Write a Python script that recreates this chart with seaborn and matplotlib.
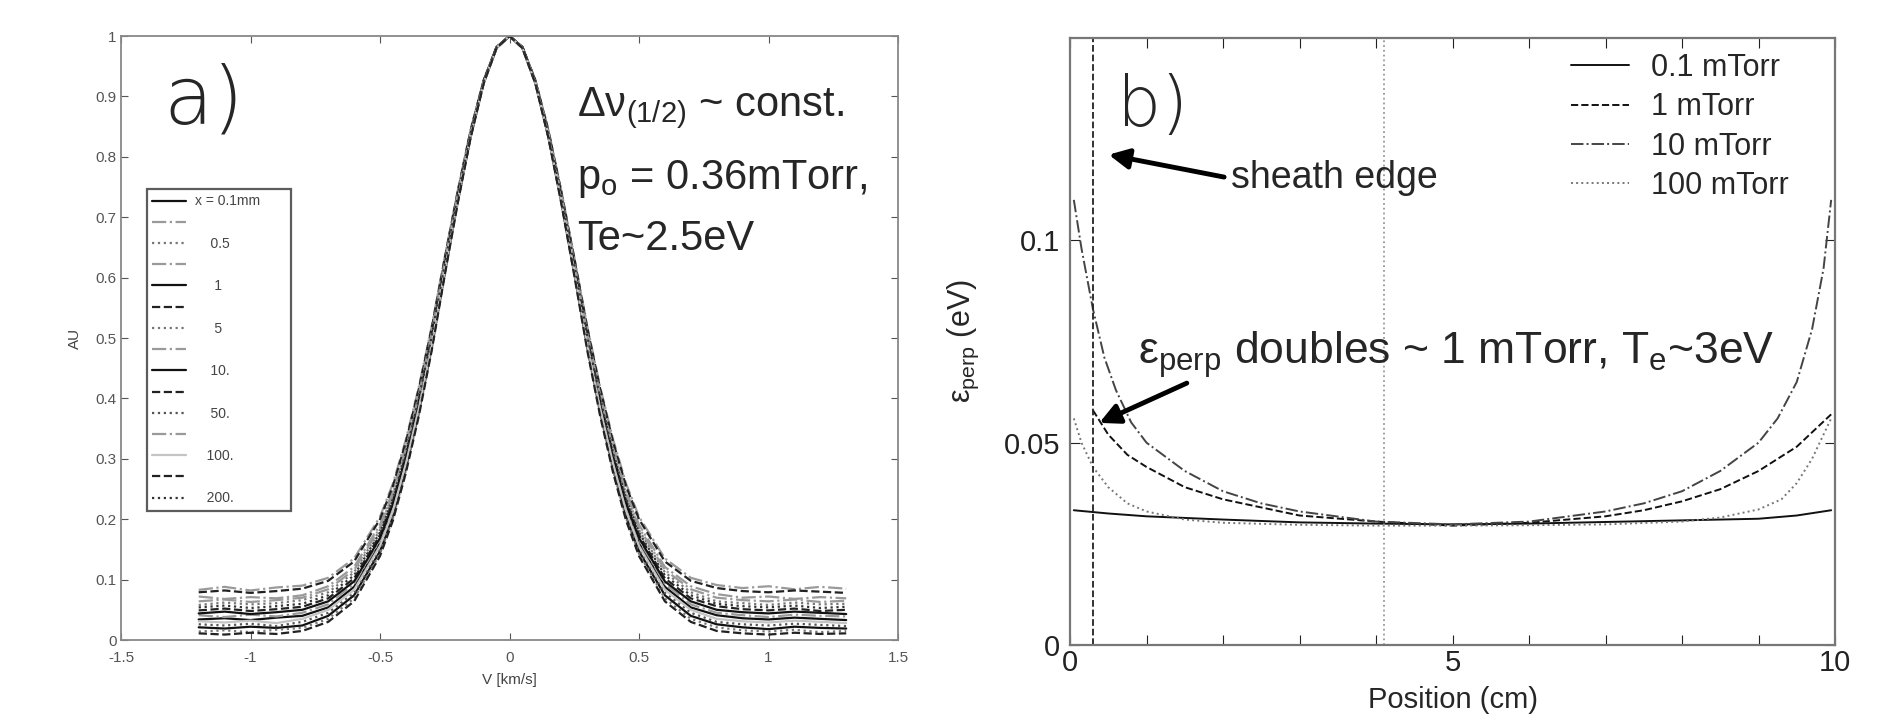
import matplotlib
matplotlib.use("Agg")
import matplotlib.pyplot as plt
from matplotlib.ticker import FuncFormatter
import numpy as np
import pandas as pd
import seaborn as sns

# ---- panel a): normalised line profiles vs velocity ----
V_KMS = [-1.2, -1.1, -1.0, -0.9, -0.8, -0.7, -0.6, -0.5, -0.45, -0.4, -0.35, -0.3,
         -0.25, -0.2, -0.15, -0.1, -0.05, 0.0, 0.05, 0.1, 0.15, 0.2, 0.25, 0.3,
         0.35, 0.4, 0.45, 0.5, 0.6, 0.7, 0.8, 0.9, 1.0, 1.1, 1.2, 1.3]

AU_PROFILES = [
    [0.021, 0.019, 0.022, 0.020, 0.024, 0.040, 0.074, 0.147, 0.206, 0.285, 0.378, 0.486, 0.608, 0.726, 0.833, 0.922, 0.980, 1.000,
     0.980, 0.922, 0.833, 0.726, 0.608, 0.486, 0.378, 0.285, 0.206, 0.147, 0.074, 0.040, 0.026, 0.021, 0.018, 0.022, 0.020, 0.019],
    [0.083, 0.088, 0.082, 0.087, 0.090, 0.103, 0.135, 0.204, 0.259, 0.332, 0.419, 0.520, 0.634, 0.744, 0.845, 0.927, 0.982, 1.000,
     0.982, 0.927, 0.845, 0.744, 0.634, 0.520, 0.419, 0.332, 0.259, 0.204, 0.135, 0.103, 0.091, 0.086, 0.089, 0.084, 0.088, 0.085],
    [0.058, 0.062, 0.059, 0.061, 0.066, 0.079, 0.112, 0.182, 0.239, 0.314, 0.403, 0.507, 0.624, 0.737, 0.840, 0.925, 0.981, 1.000,
     0.981, 0.925, 0.840, 0.737, 0.624, 0.507, 0.403, 0.314, 0.239, 0.182, 0.112, 0.079, 0.064, 0.061, 0.058, 0.062, 0.059, 0.060],
    [0.072, 0.068, 0.071, 0.069, 0.074, 0.089, 0.121, 0.191, 0.247, 0.321, 0.410, 0.512, 0.628, 0.740, 0.842, 0.926, 0.981, 1.000,
     0.981, 0.926, 0.842, 0.740, 0.628, 0.512, 0.410, 0.321, 0.247, 0.191, 0.121, 0.089, 0.076, 0.070, 0.072, 0.068, 0.071, 0.069],
    [0.034, 0.036, 0.033, 0.037, 0.040, 0.054, 0.088, 0.160, 0.218, 0.296, 0.387, 0.493, 0.614, 0.730, 0.836, 0.923, 0.981, 1.000,
     0.981, 0.923, 0.836, 0.730, 0.614, 0.493, 0.387, 0.296, 0.218, 0.160, 0.088, 0.054, 0.041, 0.036, 0.034, 0.037, 0.035, 0.033],
    [0.049, 0.052, 0.048, 0.051, 0.055, 0.069, 0.102, 0.174, 0.230, 0.306, 0.397, 0.500, 0.620, 0.734, 0.838, 0.924, 0.981, 1.000,
     0.981, 0.924, 0.838, 0.734, 0.620, 0.500, 0.397, 0.306, 0.230, 0.174, 0.102, 0.069, 0.056, 0.051, 0.049, 0.052, 0.048, 0.050],
    [0.014, 0.016, 0.013, 0.017, 0.020, 0.035, 0.069, 0.143, 0.202, 0.281, 0.375, 0.483, 0.606, 0.724, 0.833, 0.921, 0.980, 1.000,
     0.980, 0.921, 0.833, 0.724, 0.606, 0.483, 0.375, 0.281, 0.202, 0.143, 0.069, 0.035, 0.021, 0.016, 0.014, 0.017, 0.013, 0.015],
    [0.041, 0.038, 0.042, 0.039, 0.045, 0.059, 0.093, 0.165, 0.222, 0.299, 0.390, 0.496, 0.616, 0.731, 0.837, 0.923, 0.981, 1.000,
     0.981, 0.923, 0.837, 0.731, 0.616, 0.496, 0.390, 0.299, 0.222, 0.165, 0.093, 0.059, 0.045, 0.041, 0.038, 0.042, 0.040, 0.039],
    [0.044, 0.047, 0.043, 0.046, 0.050, 0.064, 0.097, 0.169, 0.226, 0.303, 0.394, 0.499, 0.618, 0.733, 0.838, 0.924, 0.981, 1.000,
     0.981, 0.924, 0.838, 0.733, 0.618, 0.499, 0.394, 0.303, 0.226, 0.169, 0.097, 0.064, 0.050, 0.046, 0.044, 0.047, 0.045, 0.043],
    [0.079, 0.082, 0.078, 0.081, 0.085, 0.098, 0.130, 0.200, 0.255, 0.328, 0.416, 0.517, 0.632, 0.742, 0.844, 0.926, 0.982, 1.000,
     0.982, 0.926, 0.844, 0.742, 0.632, 0.517, 0.416, 0.328, 0.255, 0.200, 0.130, 0.098, 0.086, 0.081, 0.079, 0.082, 0.080, 0.078],
    [0.026, 0.024, 0.027, 0.023, 0.030, 0.045, 0.078, 0.152, 0.210, 0.288, 0.381, 0.488, 0.610, 0.727, 0.834, 0.922, 0.980, 1.000,
     0.980, 0.922, 0.834, 0.727, 0.610, 0.488, 0.381, 0.288, 0.210, 0.152, 0.078, 0.045, 0.030, 0.026, 0.024, 0.027, 0.025, 0.023],
    [0.064, 0.067, 0.063, 0.066, 0.070, 0.084, 0.116, 0.186, 0.243, 0.317, 0.406, 0.509, 0.626, 0.738, 0.841, 0.925, 0.981, 1.000,
     0.981, 0.925, 0.841, 0.738, 0.626, 0.509, 0.406, 0.317, 0.243, 0.186, 0.116, 0.084, 0.070, 0.066, 0.064, 0.067, 0.063, 0.065],
    [0.031, 0.029, 0.032, 0.028, 0.035, 0.050, 0.083, 0.156, 0.214, 0.292, 0.384, 0.491, 0.612, 0.728, 0.835, 0.922, 0.980, 1.000,
     0.980, 0.922, 0.835, 0.728, 0.612, 0.491, 0.384, 0.292, 0.214, 0.156, 0.083, 0.050, 0.035, 0.031, 0.029, 0.032, 0.030, 0.028],
    [0.011, 0.009, 0.012, 0.010, 0.015, 0.030, 0.064, 0.139, 0.198, 0.277, 0.371, 0.480, 0.604, 0.723, 0.832, 0.921, 0.980, 1.000,
     0.980, 0.921, 0.832, 0.723, 0.604, 0.480, 0.371, 0.277, 0.198, 0.139, 0.064, 0.030, 0.015, 0.011, 0.009, 0.012, 0.010, 0.011],
    [0.054, 0.057, 0.053, 0.056, 0.060, 0.074, 0.107, 0.178, 0.234, 0.310, 0.400, 0.504, 0.622, 0.735, 0.839, 0.925, 0.981, 1.000,
     0.981, 0.925, 0.839, 0.735, 0.622, 0.504, 0.400, 0.310, 0.234, 0.178, 0.107, 0.074, 0.060, 0.056, 0.054, 0.057, 0.053, 0.055],
]
PROFILE_LABELS = ["x = 0.1mm", "", "    0.5", "", "     1", "", "     5", "", "    10.", "",
                  "    50.", "", "   100.", "", "   200."]
PROFILE_STYLES = ["-", "-.", ":", "-.", "-", "--", ":", "-.", "-", "--", ":", "-.", "-", "--", ":"]
PROFILE_COLORS = ["#111111", "#9a9a9a", "#777777", "#9a9a9a", "#111111", "#222222", "#777777", "#9a9a9a",
                  "#111111", "#222222", "#555555", "#9a9a9a", "#c4c4c4", "#222222", "#333333"]

# ---- panel b): perpendicular energy vs position ----
PRESSURE_LABELS = ["0.1 mTorr", "1 mTorr", "10 mTorr", "100 mTorr"]
POS_01 = [0.05, 0.5, 1, 2, 3, 4, 5, 6, 7, 8, 9, 9.5, 9.95]
EPS_01 = [0.0333, 0.0325, 0.0318, 0.0310, 0.0303, 0.0300, 0.0298, 0.0300, 0.0304, 0.0308, 0.0312, 0.0320, 0.0333]
POS_1 = [0.3, 0.5, 0.75, 1, 1.5, 2, 2.5, 3, 4, 5, 6, 7, 7.5, 8, 8.5, 9, 9.5, 9.95]
EPS_1 = [0.058, 0.052, 0.047, 0.044, 0.039, 0.036, 0.034, 0.032, 0.0305, 0.0295, 0.0302, 0.0318, 0.0333,
         0.0355, 0.0385, 0.043, 0.049, 0.057]
POS_10 = [0.05, 0.15, 0.3, 0.45, 0.6, 0.8, 1, 1.5, 2, 2.5, 3, 4, 5, 6, 7, 7.5, 8, 8.5, 9, 9.25, 9.5, 9.7, 9.85, 9.95]
EPS_10 = [0.110, 0.098, 0.083, 0.071, 0.063, 0.055, 0.050, 0.043, 0.038, 0.035, 0.033, 0.0305, 0.0298, 0.0305,
          0.033, 0.035, 0.038, 0.043, 0.050, 0.056, 0.065, 0.078, 0.093, 0.110]
POS_100 = [0.05, 0.15, 0.3, 0.5, 0.75, 1, 1.5, 2, 3, 4, 5, 6, 7, 8, 8.5, 9, 9.3, 9.5, 9.7, 9.85, 9.95]
EPS_100 = [0.056, 0.050, 0.044, 0.039, 0.035, 0.033, 0.031, 0.0302, 0.0297, 0.0295, 0.0295, 0.0296, 0.0298,
           0.0305, 0.0315, 0.0335, 0.036, 0.040, 0.046, 0.052, 0.056]
SHEATH_EDGE_CM = 0.3
MIDPLANE_CM = 4.1

sns.set_style("ticks")
plt.rcParams["font.family"] = ["Liberation Sans", "DejaVu Sans"]
plt.rcParams["mathtext.fontset"] = "custom"
plt.rcParams["mathtext.rm"] = "Liberation Sans"
plt.rcParams["mathtext.it"] = "Liberation Sans"

W, H = 1897, 718
fig = plt.figure(figsize=(W / 100, H / 100), dpi=100)
# axes boxes in pixels: left, top, right, bottom
ax1 = fig.add_axes([121 / W, (H - 640) / H, 777 / W, 604 / H])
ax2 = fig.add_axes([1070 / W, (H - 645) / H, 765 / W, 607 / H])

# panel a
for prof, ls, col in zip(AU_PROFILES, PROFILE_STYLES, PROFILE_COLORS):
    sns.lineplot(x=V_KMS, y=prof, ax=ax1, color=col, linestyle=ls, linewidth=1.6)
handles = ax1.get_lines()
leg = ax1.legend(handles, PROFILE_LABELS, loc="upper left", bbox_to_anchor=(0.033, 0.252, 0.186, 0.495),
                 mode="expand", borderaxespad=0, fontsize=10, frameon=True, fancybox=False,
                 handlelength=2.4, labelspacing=0.52, borderpad=0.4, handletextpad=0.65)
leg.get_frame().set_edgecolor("#333333")
leg.get_frame().set_linewidth(1.6)
for t in leg.get_texts():
    t.set_color("#444444")

ax1.set_xlim(-1.5, 1.5)
ax1.set_ylim(0, 1)
ax1.set_xticks([-1.5, -1, -0.5, 0, 0.5, 1, 1.5])
ax1.set_yticks(np.arange(0, 1.01, 0.1))
fmt = FuncFormatter(lambda v, p: "%g" % round(v, 2))
ax1.xaxis.set_major_formatter(fmt)
ax1.yaxis.set_major_formatter(fmt)
ax1.tick_params(direction="in", top=True, right=True, labelsize=11, colors="#555555", length=5)
ax1.tick_params(axis="x", pad=8)
ax1.tick_params(axis="y", pad=3)
for s in ax1.spines.values():
    s.set_color("#888888")
    s.set_linewidth(1.3)
ax1.set_xlabel("V [km/s]", fontsize=11, color="#444444", va="center")
ax1.set_ylabel("AU", fontsize=11, color="#444444", va="center")
ax1.xaxis.set_label_coords(0.5, -0.066)
ax1.yaxis.set_label_coords(-0.059, 0.5)

ax1.text(0.055, 0.892, "a)", transform=ax1.transAxes, fontsize=58, va="center", ha="left",
         family=["DejaVu Sans"], fontweight="light")
ax1.text(0.587, 0.881, r"Δν$_{(1/2)}$ ~ const.", transform=ax1.transAxes, fontsize=30, va="center")
ax1.text(0.587, 0.763, r"p$_o$ = 0.36mTorr,", transform=ax1.transAxes, fontsize=30, va="center")
ax1.text(0.587, 0.664, "Te~2.5eV", transform=ax1.transAxes, fontsize=30, va="center")

# panel b
series = [(POS_01, EPS_01, "-", "#111111"), (POS_1, EPS_1, "--", "#111111"),
          (POS_10, EPS_10, "-.", "#444444"), (POS_100, EPS_100, ":", "#777777")]
for (px, py, ls, col), lab in zip(series, PRESSURE_LABELS):
    sns.lineplot(x=px, y=py, ax=ax2, color=col, linestyle=ls, linewidth=1.4, label=lab)
ax2.axvline(SHEATH_EDGE_CM, color="#222222", linestyle="--", linewidth=1.3)
ax2.axvline(MIDPLANE_CM, color="#999999", linestyle=":", linewidth=1.3)

ax2.legend(loc="upper left", bbox_to_anchor=(0.655, 0.975), frameon=False, fontsize=22,
           borderpad=0, borderaxespad=0, handlelength=1.9, labelspacing=0.3, handletextpad=0.72)
ax2.set_xlim(0, 10)
ax2.set_ylim(0, 0.15)
ax2.set_xticks(np.arange(0, 11, 1))
ax2.set_xticklabels(["0", "", "", "", "", "5", "", "", "", "", "10"])
ax2.set_yticks([0, 0.05, 0.1])
ax2.set_yticklabels(["0", "0.05", "0.1"])
ax2.tick_params(direction="in", top=True, right=True, labelsize=21, colors="#222222", length=7)
ax2.tick_params(axis="x", pad=3)
ax2.tick_params(axis="y", pad=7)
for s in ax2.spines.values():
    s.set_color("#777777")
    s.set_linewidth(1.6)
ax2.set_xlabel("Position (cm)", fontsize=21, va="center")
ax2.set_ylabel(r"ε$_{\rm perp}$ (eV)", fontsize=22, va="center")
ax2.xaxis.set_label_coords(0.5, -0.09)
ax2.yaxis.set_label_coords(-0.139, 0.5)

ax2.text(0.62, 0.133, "b)", fontsize=50, va="center", ha="left", family=["DejaVu Sans"],
         fontweight="light")
ax2.annotate("", xy=(0.47, 0.1213), xytext=(2.05, 0.1155),
             arrowprops=dict(arrowstyle="-|>", lw=3.5, color="black", mutation_scale=30))
ax2.text(2.1, 0.1155, "sheath edge", fontsize=27, va="center", ha="left")
ax2.annotate("", xy=(0.35, 0.0546), xytext=(1.56, 0.065),
             arrowprops=dict(arrowstyle="-|>", lw=3.5, color="black", mutation_scale=30))
ax2.text(0.89, 0.0718, r"ε$_{\rm perp}$ doubles ~ 1 mTorr, T$_e$~3eV", fontsize=32,
         va="center", ha="left")

fig.savefig("out.png", dpi=100)
